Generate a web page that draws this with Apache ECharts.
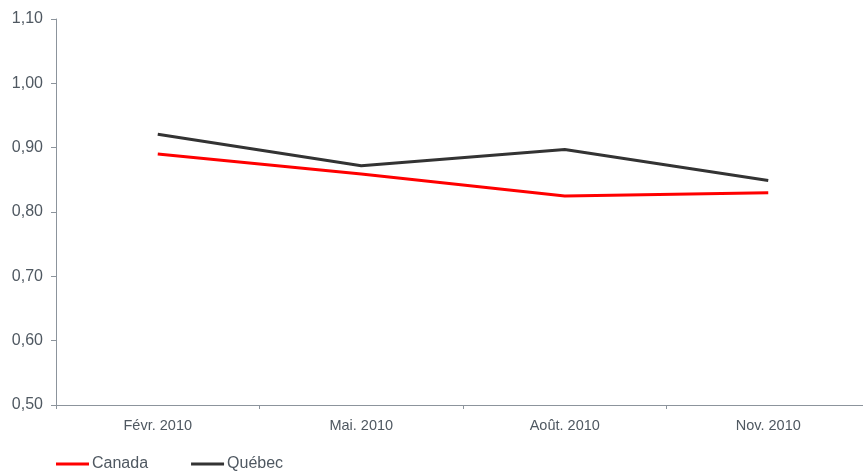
<!DOCTYPE html>
<html>
<head>
<meta charset="utf-8">
<script src="https://cdn.jsdelivr.net/npm/echarts@6/dist/echarts.min.js"></script>
<style>
  html, body { margin: 0; padding: 0; background: #fff; overflow: hidden; }
  /* un peu plus large que la fenêtre : l'axe x sort à droite */
  #chart { width: 871px; height: 474px; }
</style>
</head>
<body>
<div id="chart"></div>
<script>
// données
var periodes = ['Févr. 2010', 'Mai. 2010', 'Août. 2010', 'Nov. 2010'];
var canada = [0.890, 0.859, 0.825, 0.830];
var quebec = [0.921, 0.872, 0.897, 0.849];

var axisGray = '#8c949c';
var textGray = '#4f5861';

var chart = echarts.init(document.getElementById('chart'));
chart.setOption({
  animation: false,
  textStyle: { fontFamily: 'Liberation Sans, Arial, sans-serif' },
  grid: { left: 56, right: 1, top: 19, bottom: 69, containLabel: false, outerBoundsMode: 'none' },
  legend: {
    left: 51,
    top: 451,
    itemWidth: 33,
    itemHeight: 3,
    itemGap: 43,
    icon: 'rect',
    textStyle: { fontSize: 16, color: textGray, padding: [0, 0, 0, -2] },
    data: ['Canada', 'Québec']
  },
  xAxis: {
    type: 'category',
    data: periodes,
    boundaryGap: true,
    axisLine: { lineStyle: { color: axisGray, width: 1 } },
    axisTick: { show: true, inside: false, length: 4, lineStyle: { color: axisGray } },
    axisLabel: { color: textGray, fontSize: 14.5, margin: 13 },
    splitLine: { show: false }
  },
  yAxis: {
    type: 'value',
    min: 0.5,
    max: 1.1,
    interval: 0.1,
    axisLine: { show: true, lineStyle: { color: axisGray, width: 1 } },
    axisTick: { show: true, length: 5, lineStyle: { color: axisGray } },
    axisLabel: {
      color: textGray,
      fontSize: 16,
      margin: 13,
      formatter: function (v) { return v.toFixed(2).replace('.', ','); }
    },
    splitLine: { show: false }
  },
  series: [
    {
      name: 'Canada',
      type: 'line',
      data: canada,
      symbol: 'none',
      color: '#ff0000',
      lineStyle: { width: 3, color: '#ff0000' }
    },
    {
      name: 'Québec',
      type: 'line',
      data: quebec,
      symbol: 'none',
      color: '#333333',
      lineStyle: { width: 3, color: '#333333' }
    }
  ]
});
</script>
</body>
</html>
